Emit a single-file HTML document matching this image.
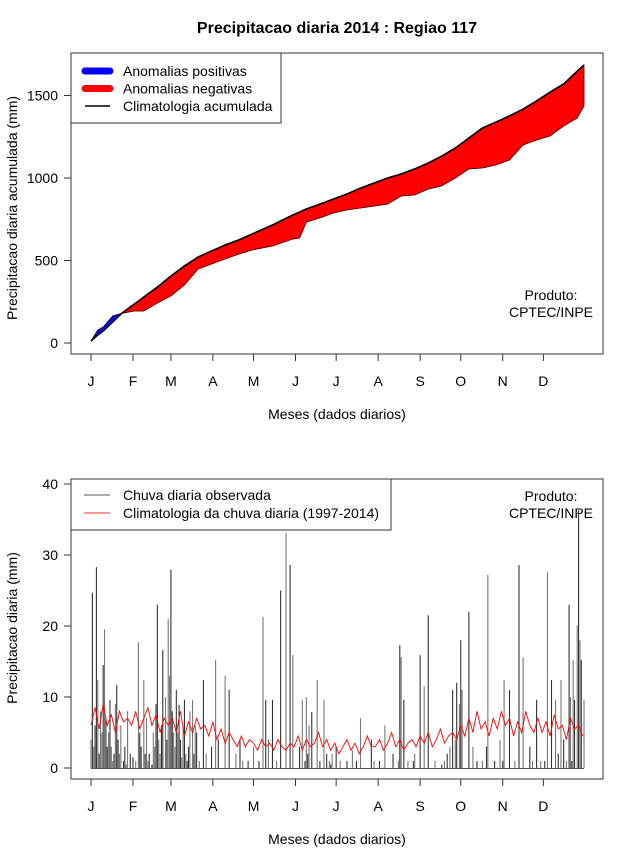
<!DOCTYPE html>
<html><head><meta charset="utf-8">
<style>
html,body{margin:0;padding:0;background:#fff;}
svg{display:block;font-family:"Liberation Sans",Arial,sans-serif;}
</style></head>
<body>
<svg id="chart" width="640" height="850" viewBox="0 0 640 850" xmlns="http://www.w3.org/2000/svg">
<text x="337" y="33" text-anchor="middle" font-size="16" font-weight="bold">Precipitacao diaria 2014 : Regiao 117</text>
<g id="topPanel"></g>
<g id="botPanel"></g>
</svg>
<script>
// ---- data ----
const monthLabels = ["J","F","M","A","M","J","J","A","S","O","N","D"];
const monthStartDays = [1,32,60,91,121,152,182,213,244,274,305,335];
const topTicks = [0,500,1000,1500];
const botTicks = [0,10,20,30,40];
const cumDays = [1,6,10,17,24,33,40,50,60,70,80,90,100,110,120,135,150,155,160,170,180,190,200,210,220,230,240,250,260,270,280,290,300,310,320,330,340,350,360,365];
const climCum = [12,48,73,127,182,236,279,339,406,467,521,558,594,624,661,715,776,794,812,842,873,903,939,970,1000,1024,1055,1091,1133,1182,1242,1303,1339,1376,1418,1467,1521,1570,1648,1685];
const obsCum = [12,79,97,164,180,194,194,242,285,352,448,479,509,539,564,588,630,636,733,758,788,806,818,830,842,891,897,933,952,1000,1055,1061,1079,1109,1200,1230,1255,1315,1364,1436];
const climDaily = [6,8.5,5.5,9,6,7.5,5,8,6.5,7, 6,8,5.5,7,8.5,6,7.5,5,7,6, 7,5,8,4.5,6.5,5,7,5.5,6,4.5, 6.5,4,5.5,3.5,5,4,3,4.5,3,4, 3.5,2.5,4,3,3.5,2.5,4,3,2.5,3.5, 3,4.5,2.5,4,3,3.5,5,3,4,2.5, 3.5,2,3,4,2.5,3.5,2,3,4.5,3, 3,4,2.5,3.5,5,3,4,2.5,3.5,4, 3,4.5,3.5,5,3,4,5.5,3.5,4.5,5, 4,6,4.5,7,5,8,5.5,6.5,4.5,7, 5.5,8,6,7,4.5,6.5,5,8,6,5, 7,5,6.5,4.5,7.5,5.5,6,4,7,5.5,6,4.5];
const rainDays = [1,2,3,5,6,7,8,10,11,13,14,15,17,20,22,25,27,32,36,37,40,41,43,46,48,50,51,54,58,60,63,64,65,66,68,70,71,72,76,79,81,84,86,90,93,95,100,103,108,111,113,117,121,125,128,130,132,135,138,141,145,148,150,155,157,159,160,161,162,164,168,170,173,175,177,178,179,182,185,190,194,197,200,208,210,214,218,224,228,229,230,232,235,239,240,244,247,250,255,260,262,264,266,268,270,271,273,274,275,280,283,286,290,293,294,299,303,305,306,310,314,317,320,325,327,330,333,336,338,341,344,346,348,350,352,354,355,356,357,358,360,361,362,363,365,
 4,9,12,16,18,19,21,23,26,28,30,34,38,42,44,47,49,52,53,56,57,59,61,62,67,69,73,74,77,78];
const rainVals = [4,24.7,3,28.3,12.4,2,8,14.5,19.5,3,5,9.6,1,11.7,2,1,0.5,1.5,17.7,5,12.4,2,1,0.5,3,23,4,16.6,21,27.9,3,11,5,8.9,1.5,9.6,2,1,9.6,5,1,12.4,2,3,15.2,4,13,11,2,4,1,1,3,1,21.3,9.6,4,9.6,1,25,33.1,28.6,15.9,3,9.6,1,10,2,6,7.9,12.4,1,9.6,2,1,0.5,2,3,1,1,2.5,1,7,4,1,1,6,2,1,17.3,15.6,9.6,1,1,2,15.9,11.5,21.5,1,0.5,1,2,3,11,4,12,9,18,11,22,3,1,1,3,27.2,1,4,1,12.4,11,1,28.6,15.6,3,1,9.6,1,1,27.6,12.4,9.6,2,12.4,4,1,23,10,1,15.2,9.6,20.1,36.3,18,15.2,9.6,
 6,5,7,3,2,9,4,6,3,8,2,1,3,7,2,5,9,2,6,10,4,13,8,5,4,6,3,8,2,6];

// ---- axes ----
const X0 = 91, X1 = 584;
function xDay(d){ return X0 + (d-1)*(X1-X0)/364; }
function yTop(v){ return 343 - v*0.165; }
function yBot(v){ return 768 - v*7.1; }

const NS = "http://www.w3.org/2000/svg";
function mk(tag, attrs, parent){
  const e = document.createElementNS(NS, tag);
  for (const k in attrs) e.setAttribute(k, attrs[k]);
  parent.appendChild(e);
  return e;
}
const topG = document.getElementById('topPanel');
const botG = document.getElementById('botPanel');

function frame(g, y0, y1, ticks, yf, ytitle, ycenter, xaxisY, prefix){
  const box = mk('rect',{x:71,y:y0,width:532,height:y1-y0,fill:'none',stroke:'#333','stroke-width':1},g);
  
  
  ticks.forEach(t=>{
    const y = yf(t);
    const tl = mk('line',{x1:64,x2:71,y1:y,y2:y,stroke:'#333'},g);
    
    
    const tx = mk('text',{x:58,y:y+5,'text-anchor':'end','font-size':14},g);
    
    
    tx.textContent = t;
  });
  monthStartDays.forEach((d,i)=>{
    const x = xDay(d);
    const tl = mk('line',{x1:x,x2:x,y1:y1,y2:y1+7,stroke:'#333'},g);
    
    
    const tx = mk('text',{x:x,y:xaxisY,'text-anchor':'middle','font-size':14},g);
    
    
    tx.textContent = monthLabels[i];
  });
  const xt = mk('text',{x:337,y:xaxisY+33,'text-anchor':'middle','font-size':14},g);
  
  
  xt.textContent = 'Meses (dados diarios)';
  const yt = mk('text',{x:17,y:ycenter,'text-anchor':'middle','font-size':14,transform:'rotate(-90 17 '+ycenter+')'},g);
  
  
  yt.textContent = ytitle;
}

// ---- top panel ----
for (let i=0;i<cumDays.length-1;i++){
  const a = cumDays[i], b = cumDays[i+1];
  const pos = (obsCum[i]+obsCum[i+1]) > (climCum[i]+climCum[i+1]);
  const pts = [[xDay(a),yTop(obsCum[i])],[xDay(b),yTop(obsCum[i+1])],[xDay(b),yTop(climCum[i+1])],[xDay(a),yTop(climCum[i])]];
  const p = mk('polygon',{points:pts.map(q=>q.join(',')).join(' '),fill:pos?'#0000ff':'#ff0000',stroke:pos?'#0000ff':'#ff0000','stroke-width':0.6},topG);
  
  
}
const obsLine = mk('polyline',{points:cumDays.map((d,i)=>xDay(d)+','+yTop(obsCum[i])).join(' '),fill:'none',stroke:'#400','stroke-width':0.8},topG);


const endLine = mk('line',{x1:xDay(365),x2:xDay(365),y1:yTop(obsCum[obsCum.length-1]),y2:yTop(climCum[climCum.length-1]),stroke:'#400','stroke-width':0.8},topG);


const climLine = mk('polyline',{points:cumDays.map((d,i)=>xDay(d)+','+yTop(climCum[i])).join(' '),fill:'none',stroke:'#000','stroke-width':1.6},topG);


frame(topG, 53, 354, topTicks, yTop, 'Precipitacao diaria acumulada (mm)', 208, 386, 'top');

// top legend
const lg = mk('g',{},topG);


mk('rect',{x:71,y:53,width:210,height:70,fill:'#fff',stroke:'#333'},lg);
const legItems = [['Anomalias positivas','#0000ff',7],['Anomalias negativas','#ff0000',7],['Climatologia acumulada','#000',1.5]];
legItems.forEach((it,i)=>{
  const y = 71 + i*17.5;
  const l = mk('line',{x1:85,x2:110,y1:y,y2:y,stroke:it[1],'stroke-width':it[2],'stroke-linecap':it[2]>3?'round':'butt'},lg);
  
  
  const t = mk('text',{x:123,y:y+5,'font-size':14},lg);
  
  
  t.textContent = it[0];
});
[['Produto:',300],['CPTEC/INPE',317]].forEach(a=>{
  const t = mk('text',{x:551,y:a[1],'text-anchor':'middle','font-size':14},topG);
  
  
  t.textContent = a[0];
});

// ---- bottom panel ----
rainDays.forEach((d,i)=>{
  const x = xDay(d);
  const b = mk('line',{x1:x,x2:x,y1:yBot(0),y2:yBot(rainVals[i]),stroke:i%2?'#333':'#777','stroke-width':1.1},botG);
  
  
});
const base = mk('line',{x1:X0,x2:X1,y1:yBot(0)+0.5,y2:yBot(0)+0.5,stroke:'#555','stroke-width':1},botG);


const climDays = climDaily.map((v,i)=>1+i*3);
const cl = mk('polyline',{points:climDays.map((d,i)=>xDay(Math.min(d,365))+','+yBot(climDaily[i])).join(' '),fill:'none',stroke:'#ff0000','stroke-width':0.9},botG);


frame(botG, 479, 779, botTicks, yBot, 'Precipitacao diaria (mm)', 628, 811, 'bottom');

const lg2 = mk('g',{},botG);


mk('rect',{x:71,y:479,width:320,height:51,fill:'#fff',stroke:'#333'},lg2);
[['Chuva diaria observada','#555'],['Climatologia da chuva diaria (1997-2014)','#ff3333']].forEach((it,i)=>{
  const y = 495 + i*18;
  const l = mk('line',{x1:84,x2:110,y1:y,y2:y,stroke:it[1],'stroke-width':1},lg2);
  
  
  const t = mk('text',{x:123,y:y+5,'font-size':14},lg2);
  
  
  t.textContent = it[0];
});
[['Produto:',501],['CPTEC/INPE',518]].forEach(a=>{
  const t = mk('text',{x:551,y:a[1],'text-anchor':'middle','font-size':14},botG);
  
  
  t.textContent = a[0];
});
</script>
</body></html>
